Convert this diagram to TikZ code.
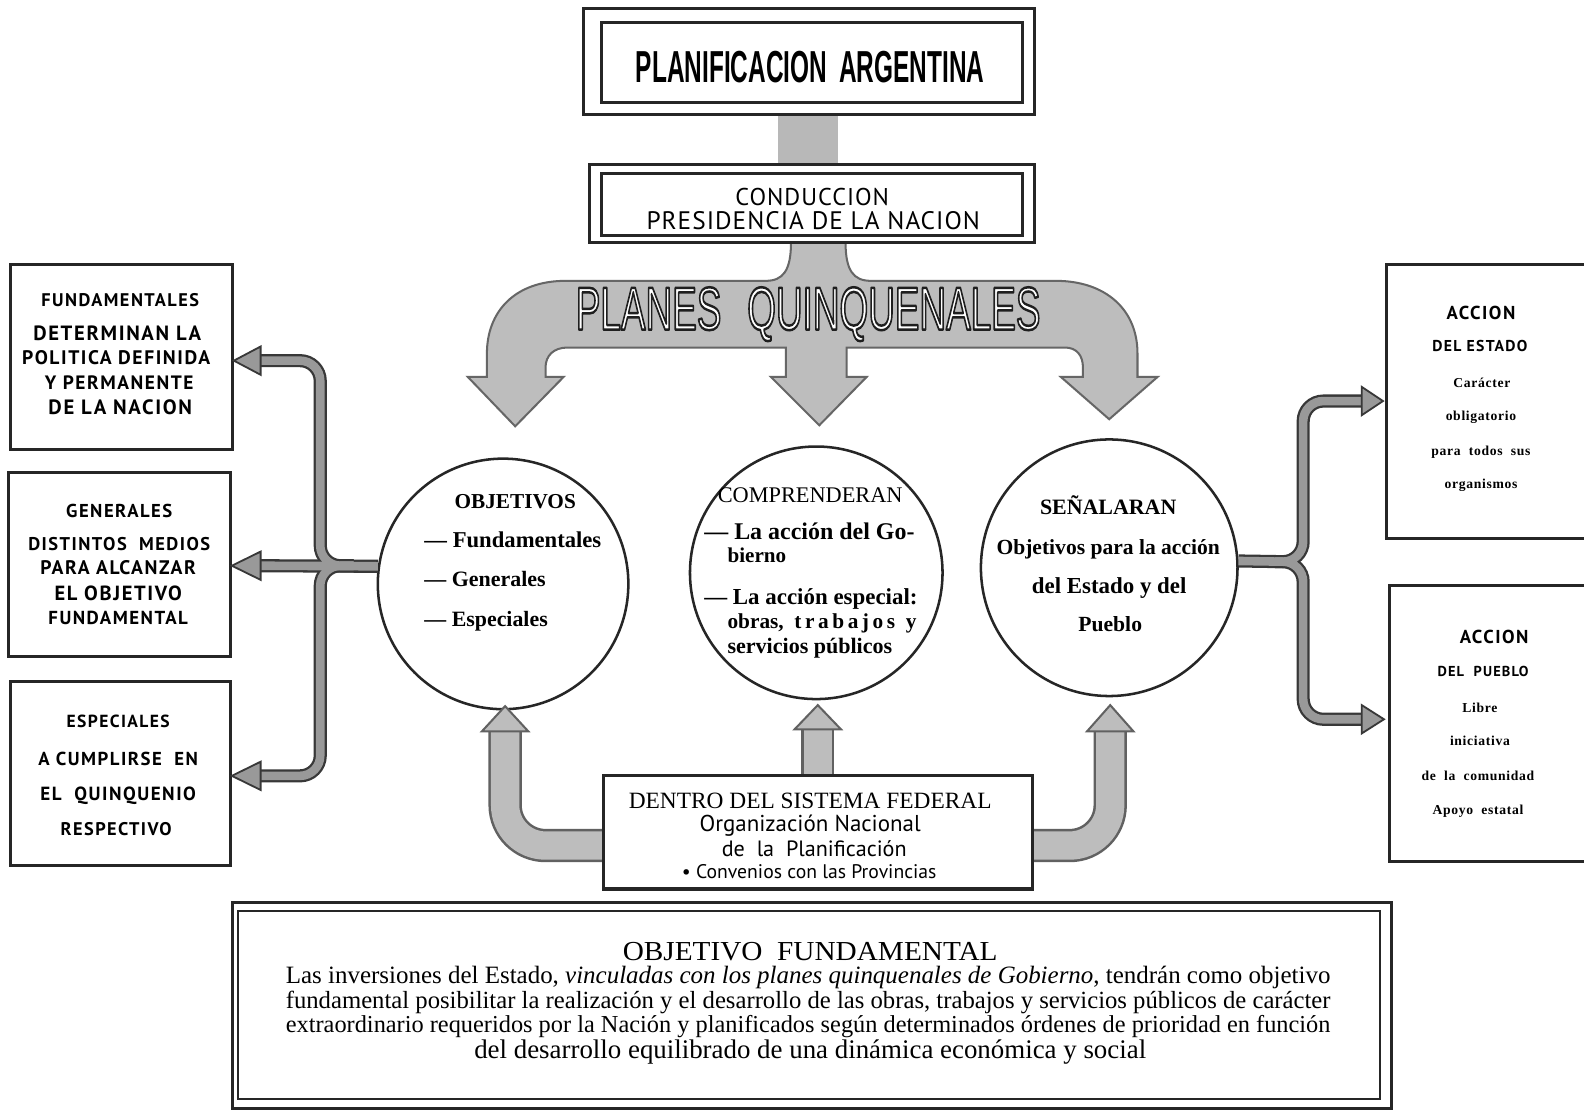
\documentclass[tikz,border=0pt]{standalone}
\usepackage{fontspec}
\usepackage{graphicx}
\setmainfont{Liberation Serif}
\newfontfamily\condfont{Liberation Sans}
\newfontfamily\ptsans{PT Sans}
\newfontfamily\ptsp{PT Sans}[LetterSpace=8]
\newfontfamily\ptspc{PT Sans}[LetterSpace=4]
\newfontfamily\serls{Liberation Serif}[LetterSpace=5]
\usetikzlibrary{calc}
\newcommand\fw[2]{\resizebox{#1pt}{!}{#2}}
\newcommand\lb[1]{{\ptsp\bfseries #1}}
\newcommand\rs[1]{{\fontsize{13.5}{16}\selectfont\serls\bfseries #1}}
\newcommand\pqtext{\resizebox{460pt}{42pt}{\fontsize{58}{60}\selectfont\special{pdf:literal direct 2 Tr 2.4 w 1 j 0.12 0.12 0.12 RG}\condfont PLANES\hspace{0.7em}QUINQUENALES\special{pdf:literal direct 0 Tr}}}
\begin{document}
\begin{tikzpicture}[x=1pt,y=-1pt,
  frame/.style={draw=black!85, line width=3pt, inner sep=0pt},
  tx/.style={inner sep=0pt, anchor=base},
  txl/.style={inner sep=0pt, anchor=base west},
  circ/.style={circle, draw=black!85, line width=2.5pt, inner sep=0pt, minimum size=#1},
  thinout/.style={draw=black!78, line width=13pt, rounded corners=20pt},
  thinin/.style={draw=black!40, line width=8.5pt, rounded corners=20pt},
  thinhead/.style={fill=black!40, draw=black!78, line width=1.8pt},
  thickout/.style={draw=black!62, line width=33pt, rounded corners=40pt},
  thickin/.style={draw=black!26, line width=28pt, rounded corners=40pt},
  thickhead/.style={fill=black!26, draw=black!62, line width=2pt},
  bigarrow/.style={fill=black!26, draw=black!60, line width=2pt},
]
\useasboundingbox[fill=white] (0,0) rectangle (1568,1098);

% ---------- big PLANES QUINQUENALES arrow ----------
\path[bigarrow] (783,240) .. controls (783,268) and (775,278) .. (758,278) -- (560,278)
  .. controls (510,278) and (482,308) .. (482,350) -- (482,373) -- (463,373) -- (510,422) -- (558,373) -- (540,373) -- (540,364)
  .. controls (540,352) and (548,344) .. (562,344) -- (778,344) -- (778,373) -- (763,373) -- (811,421) -- (858,373) -- (838,373) -- (838,344)
  -- (1054,344) .. controls (1066,344) and (1072,352) .. (1072,364) -- (1072,373) -- (1050,373) -- (1098,415) -- (1146,373) -- (1126,373) -- (1126,350)
  .. controls (1126,306) and (1094,278) .. (1045,278) -- (862,278) .. controls (845,278) and (837,268) .. (837,240) -- cycle;
\node[inner sep=0pt, text=white] (pq) at (800,311) {\pqtext};

% ---------- title ----------
\node[fill=black!28, minimum width=60pt, minimum height=50pt, inner sep=0pt] (link) at (800,138) {};
\node[frame, fill=white, minimum width=446pt, minimum height=105pt] (titleout) at (801,60.5) {};
\node[frame, minimum width=417pt, minimum height=79pt] (titlein) at (803.5,61.5) {};
\node[inner sep=0pt] (title) at (802,66) {\resizebox{345pt}{31pt}{\condfont\bfseries PLANIFICACION\hspace{0.5em}ARGENTINA}};

\node[frame, fill=white, minimum width=440pt, minimum height=77pt] (condout) at (804,201.5) {};
\node[frame, minimum width=417pt, minimum height=61pt] (condin) at (803.5,202.5) {};
\node[tx] (cond1) at (804,203) {\fw{152}{{\ptspc CONDUCCION}}};
\node[tx] (cond2) at (805,227) {\fw{330}{{\ptspc PRESIDENCIA\ DE\ LA\ NACION}}};

% ---------- circles ----------
\node[circ=248pt] (c1) at (498,578) {};
\node[circ=250pt] (c2) at (808,567) {};
\node[circ=254pt] (c3) at (1098,562) {};

\node[tx] (c1a) at (510,503) {\fw{120}{\bfseries OBJETIVOS}};
\node[txl] (c1b) at (420,542) {\fw{175}{\bfseries --- Fundamentales}};
\node[txl] (c1c) at (420,581) {\fw{120}{\bfseries --- Generales}};
\node[txl] (c1d) at (420,620) {\fw{122}{\bfseries --- Especiales}};

\node[tx] (c2a) at (802,497) {\fw{183}{COMPRENDERAN}};
\node[txl] (c2b) at (697,534) {\fw{208}{\bfseries --- La acción del Go-}};
\node[txl] (c2c) at (720,557) {\fw{58}{\bfseries bierno}};
\node[txl] (c2d) at (697,598) {\fw{211}{\bfseries --- La acción especial:}};
\node[txl] (c2e) at (720,622) {\fw{187}{\bfseries obras,\ \ t\,r\,a\,b\,a\,j\,o\,s\ \ y}};
\node[txl] (c2f) at (720,647) {\fw{163}{\bfseries servicios públicos}};

\node[tx] (c3a) at (1097,509) {\fw{135}{\bfseries SEÑALARAN}};
\node[tx] (c3b) at (1097,549) {\fw{221}{\bfseries Objetivos para la acción}};
\node[tx] (c3c) at (1098,587) {\fw{153}{\bfseries del Estado y del}};
\node[tx] (c3d) at (1099,625) {\fw{63}{\bfseries Pueblo}};

% ---------- left boxes ----------
\node[frame, minimum width=220pt, minimum height=183pt] (b1) at (120,353.5) {};
\node[frame, minimum width=220pt, minimum height=182pt] (b2) at (118,559) {};
\node[frame, minimum width=218pt, minimum height=182pt] (b3) at (119,766) {};

\node[tx] (b1a) at (119,303) {\fw{156}{\lb{FUNDAMENTALES}}};
\node[tx] (b1b) at (116,337) {\fw{166}{\lb{DETERMINAN\ LA}}};
\node[tx] (b1c) at (115,361) {\fw{186}{\lb{POLITICA DEFINIDA}}};
\node[tx] (b1d) at (118,386) {\fw{147}{\lb{Y\ PERMANENTE}}};
\node[tx] (b1e) at (119,410) {\fw{142}{\lb{DE\ LA\ NACION}}};

\node[tx] (b2a) at (118,512) {\fw{105}{\lb{GENERALES}}};
\node[tx] (b2b) at (118,545) {\fw{180}{\lb{DISTINTOS\ \ MEDIOS}}};
\node[tx] (b2c) at (117,569) {\fw{154}{\lb{PARA ALCANZAR}}};
\node[tx] (b2d) at (117,594) {\fw{126}{\lb{EL OBJETIVO}}};
\node[tx] (b2e) at (117,618) {\fw{138}{\lb{FUNDAMENTAL}}};

\node[tx] (b3a) at (117,720) {\fw{102}{\lb{ESPECIALES}}};
\node[tx] (b3b) at (117,758) {\fw{158}{\lb{A\ CUMPLIRSE\ \ EN}}};
\node[tx] (b3c) at (117,792) {\fw{154}{\lb{EL\ \ QUINQUENIO}}};
\node[tx] (b3d) at (115,827) {\fw{110}{\lb{RESPECTIVO}}};

% ---------- right boxes ----------
\draw[draw=black!85, line width=3pt] (1575,262) -- (1372,262) -- (1372,533) -- (1575,533);
\draw[draw=black!85, line width=3pt] (1575,580) -- (1375,580) -- (1375,853) -- (1575,853);
\coordinate (r1) at (1372,397);
\coordinate (r2) at (1375,712);

\node[tx] (r1a) at (1466,316) {\fw{68}{\lb{ACCION}}};
\node[tx] (r1b) at (1465,348) {\fw{94}{\lb{DEL ESTADO}}};
\node[tx] (r1c) at (1467,384) {\rs{Carácter}};
\node[tx] (r1d) at (1466,416) {\rs{obligatorio}};
\node[tx] (r1e) at (1466,451) {\rs{para\ \ todos\ \ sus}};
\node[tx] (r1f) at (1466,484) {\rs{organismos}};

\node[tx] (r2a) at (1479,637) {\fw{68}{\lb{ACCION}}};
\node[tx] (r2b) at (1468,670) {\fw{90}{\lb{DEL\ \ PUEBLO}}};
\node[tx] (r2c) at (1465,705) {\rs{Libre}};
\node[tx] (r2d) at (1465,738) {\rs{iniciativa}};
\node[tx] (r2e) at (1463,773) {\rs{de\ \ la\ \ comunidad}};
\node[tx] (r2f) at (1463,806) {\rs{Apoyo\ \ estatal}};

% ---------- left thin connectors ----------
\coordinate (lj) at (350,560);
\coordinate (lt) at (258,357);
\coordinate (lm) at (258,560);
\coordinate (lb) at (258,768);
\draw[thinout] (c1.172) -- (lm);
\draw[thinout] (lj) -| (317,357) -- (lt);
\draw[thinout] (lj) -| (317,768) -- (lb);
\draw[thinin] (c1.172) -- (lm);
\draw[thinin] (lj) -| (317,357) -- (lt);
\draw[thinin] (lj) -| (317,768) -- (lb);
\path[thinhead] ($(lt)+(0,-14)$) -- (b1.east |- lt) -- ($(lt)+(0,14)$) -- cycle;
\path[thinhead] ($(lm)+(0,-14)$) -- (b2.east |- lm) -- ($(lm)+(0,14)$) -- cycle;
\path[thinhead] ($(lb)+(0,-14)$) -- (b3.east |- lb) -- ($(lb)+(0,14)$) -- cycle;

% ---------- right thin connectors ----------
\coordinate (rj) at (1262,556);
\coordinate (rt) at (1348,397);
\coordinate (rb) at (1348,712);
\draw[thinout] (c3.3) -- (1270,556);
\draw[thinout] (rj) -| (1290,397) -- (rt);
\draw[thinout] (rj) -| (1290,712) -- (rb);
\draw[thinin] (c3.3) -- (1270,556);
\draw[thinin] (rj) -| (1290,397) -- (rt);
\draw[thinin] (rj) -| (1290,712) -- (rb);
\path[thinhead] ($(rt)+(0,-14)$) -- ($(r1)+(-3,0)$) -- ($(rt)+(0,14)$) -- cycle;
\path[thinhead] ($(rb)+(0,-14)$) -- ($(r2)+(-5,0)$) -- ($(rb)+(0,14)$) -- cycle;

% ---------- federal box and its arrows ----------
\coordinate (fl) at (500,724);
\coordinate (fm) at (809.5,722);
\coordinate (fr) at (1099,724);
\node[minimum width=425pt, minimum height=112pt, inner sep=0pt] (fedarea) at (809.5,824) {};
\draw[thickout] ($(fedarea.west)+(10,13)$) -- (500,837) -- (fl);
\draw[thickout] ($(fedarea.east)+(-10,13)$) -- (1099,837) -- (fr);
\draw[thickout] ($(fedarea.north)+(0,8)$) -- (fm);
\draw[thickin] ($(fedarea.west)+(10,13)$) -- (500,837) -- (fl);
\draw[thickin] ($(fedarea.east)+(-10,13)$) -- (1099,837) -- (fr);
\draw[thickin] ($(fedarea.north)+(0,8)$) -- (fm);
\path[thickhead] ($(fl)+(-23,0)$) -- (500,699) -- ($(fl)+(23,0)$) -- cycle;
\path[thickhead] ($(fm)+(-23,0)$) -- (809.5,698) -- ($(fm)+(23,0)$) -- cycle;
\path[thickhead] ($(fr)+(-23,0)$) -- (1099,698) -- ($(fr)+(23,0)$) -- cycle;

\node[frame, fill=white, minimum width=425pt, minimum height=112pt] (fed) at (809.5,824) {};
\node[tx] (f1) at (802,800) {\fw{359}{DENTRO DEL SISTEMA FEDERAL}};
\node[tx] (f2) at (802,823) {\fw{219}{\ptsans Organización Nacional}};
\node[tx] (f3) at (806,848) {\fw{183}{\ptsans de\ \ la\ \ Planificación}};
\node[tx] (f4) at (801,870) {\fw{252}{\ptsans \textbullet\ Convenios con las Provincias}};

% ---------- bottom box ----------
\node[frame, minimum width=1147pt, minimum height=204pt] (objout) at (803.5,995) {};
\node[frame, line width=2pt, minimum width=1130pt, minimum height=186pt] (objin) at (801,995) {};
\node[tx] (o1) at (802,951) {\resizebox{371pt}{18pt}{OBJETIVO\ \ FUNDAMENTAL}};
\node[tx] (o2) at (800,974) {\fw{1034}{Las inversiones del Estado, \textit{vinculadas con los planes quinquenales de Gobierno}, tendrán como objetivo}};
\node[tx] (o3) at (800,998) {\fw{1034}{fundamental posibilitar la realización y el desarrollo de las obras, trabajos y servicios públicos de carácter}};
\node[tx] (o4) at (800,1022) {\fw{1034}{extraordinario requeridos por la Nación y planificados según determinados órdenes de prioridad en función}};
\node[tx] (o5) at (802,1048) {\fw{665}{del desarrollo equilibrado de una dinámica económica y social}};
\end{tikzpicture}
\end{document}
